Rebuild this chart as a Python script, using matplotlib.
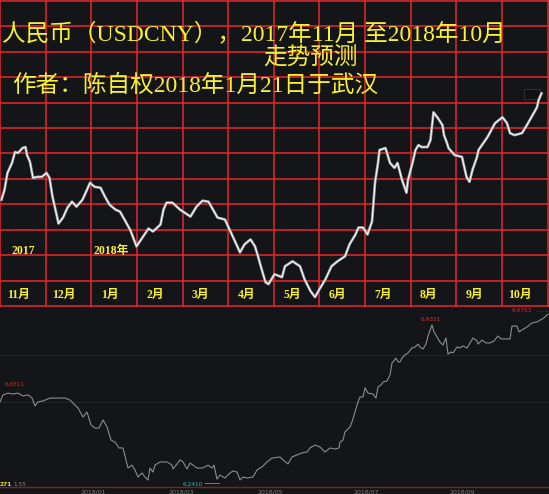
import numpy as np
import matplotlib
matplotlib.use("Agg")
import matplotlib.pyplot as plt
from matplotlib.patches import Rectangle

# ---- upper panel: forecast curve (days since 2017-11-01, level index) ----
fc_day = [1, 3, 5, 8, 10, 12, 15, 17, 18, 20, 22, 25, 28, 31, 33, 35, 38, 39, 42, 45,
          48, 51, 55, 58, 60, 63, 67, 70, 73, 77, 80, 83, 87, 91, 95, 99, 102, 107, 109, 111,
          115, 120, 123, 127, 131, 135, 139, 142, 145, 150, 153, 157, 160, 163, 167, 170, 172, 175, 177, 179,
          183, 188, 190, 195, 200, 203, 207, 210, 213, 217, 221, 225, 230, 233, 237, 239, 242, 245, 248, 249,
          250, 252, 253, 257, 260, 263, 265, 268, 271, 272, 275, 277, 279, 281, 285, 287, 289, 292, 295, 296,
          298, 299, 303, 308, 311, 313, 315, 318, 319, 325, 330, 335, 338, 340, 343, 348, 352, 355, 358, 359,
          361]
fc_level = [107, 117, 134, 144, 155, 154, 159, 160, 152, 145, 129, 130, 130, 134, 129, 110, 90, 83, 89, 99,
            105, 100, 107, 117, 124, 120, 119, 110, 102, 97, 95, 87, 76, 60, 69, 78, 75, 82, 97, 104,
            104, 97, 94, 90, 100, 106, 105, 97, 89, 87, 77, 64, 54, 62, 67, 60, 50, 34, 24, 22,
            32, 29, 40, 45, 40, 27, 15, 9, 17, 27, 40, 45, 50, 62, 72, 79, 79, 72, 85, 104,
            124, 144, 157, 159, 144, 139, 144, 127, 114, 127, 144, 157, 162, 160, 160, 167, 195, 189, 182, 172,
            164, 159, 152, 150, 130, 125, 137, 150, 157, 170, 184, 190, 184, 174, 172, 174, 184, 192, 200, 207,
            214]

month_names = ["11月", "12月", "1月", "2月", "3月", "4月", "5月", "6月", "7月", "8月", "9月", "10月"]
year_labels = ["2017", "2018年"]

title_1 = "人民币（USDCNY），2017年11月 至2018年10月"
title_2 = "走势预测"
title_3 = "作者：陈自权2018年1月21日于武汉"

# ---- lower panel: actual USDCNY (trading-day index, rate) ----
hist_x = [0, 3, 8, 13, 18, 23, 28, 32, 35, 38, 43, 50, 58, 65, 70, 73, 78, 83, 87, 91,
          95, 99, 103, 107, 111, 115, 119, 123, 128, 132, 135, 138, 142, 145, 148, 150, 153, 155, 160, 167,
          172, 173, 177, 180, 183, 187, 190, 193, 197, 202, 205, 208, 212, 214, 217, 220, 225, 230, 233, 237,
          240, 243, 247, 253, 257, 262, 267, 272, 280, 283, 288, 292, 297, 302, 307, 310, 315, 320, 325, 330,
          335, 339, 340, 343, 345, 350, 352, 355, 358, 360, 363, 365, 368, 373, 376, 378, 381, 383, 387, 390,
          392, 396, 398, 400, 402, 405, 408, 412, 415, 418, 420, 423, 426, 428, 432, 434, 437, 440, 443, 446,
          448, 451, 453, 457, 460, 463, 467, 470, 473, 477, 478, 482, 486, 490, 494, 498, 501, 510, 512, 517,
          519, 522, 527, 532, 537, 542, 545, 548]
hist_rate = [6.587, 6.618, 6.626, 6.622, 6.626, 6.613, 6.618, 6.604, 6.569, 6.587, 6.591, 6.604, 6.604, 6.604, 6.595, 6.582, 6.560, 6.520, 6.542, 6.485,
             6.471, 6.471, 6.507, 6.476, 6.418, 6.409, 6.383, 6.383, 6.294, 6.307, 6.285, 6.254, 6.272, 6.254, 6.241, 6.294, 6.276, 6.307, 6.321, 6.321,
             6.307, 6.290, 6.312, 6.330, 6.321, 6.290, 6.316, 6.307, 6.294, 6.294, 6.299, 6.307, 6.294, 6.307, 6.245, 6.263, 6.250, 6.272, 6.281, 6.276,
             6.241, 6.254, 6.250, 6.254, 6.285, 6.299, 6.321, 6.338, 6.343, 6.330, 6.312, 6.343, 6.352, 6.361, 6.365, 6.383, 6.396, 6.387, 6.365, 6.383,
             6.378, 6.383, 6.409, 6.418, 6.454, 6.476, 6.498, 6.542, 6.587, 6.609, 6.609, 6.649, 6.626, 6.622, 6.604, 6.653, 6.662, 6.675, 6.680, 6.706,
             6.759, 6.781, 6.764, 6.764, 6.781, 6.795, 6.804, 6.826, 6.830, 6.843, 6.830, 6.821, 6.843, 6.879, 6.928, 6.897, 6.875, 6.852, 6.839, 6.870,
             6.799, 6.808, 6.804, 6.830, 6.826, 6.835, 6.826, 6.848, 6.870, 6.857, 6.843, 6.861, 6.848, 6.848, 6.857, 6.879, 6.866, 6.866, 6.923, 6.923,
             6.897, 6.906, 6.919, 6.937, 6.941, 6.954, 6.963, 6.976]

date_ticks = [93, 181, 270, 366, 462]
date_labels = ["2018/01", "2018/03", "2018/05", "2018/07", "2018/09"]

cjk = ["Liberation Serif", "Noto Sans CJK SC"]
yellow = "#f8f034"
red = "#e8272a"

fig = plt.figure(figsize=(5.49, 4.94), dpi=100)
fig.patch.set_facecolor("#141518")

# upper chart
ax = fig.add_axes([0, 187 / 494, 1, 307 / 494])
ax.set_facecolor("#1b1c20")
ax.set_xlim(0, 366)
ax.set_ylim(-1, 308)
ax.axis("off")

for k in range(13):
    ax.axvline(k * 365 / 12, color=red, lw=1.1, zorder=1)
    ax.axhline(k * 307 / 12, color=red, lw=1.1, zorder=1)

ax.add_patch(Rectangle((349, 208), 11, 10, facecolor="#101114", edgecolor="#34353a", lw=0.6, zorder=2))

ax.plot(fc_day, fc_level, color="#a4a9ae", lw=1.9, zorder=3, solid_joinstyle="round")
ax.plot(fc_day, fc_level, color="white", lw=0.7, zorder=4)

ax.text(1, 274, title_1, family=cjk, fontsize=17, color=yellow, va="center", ha="left", zorder=5)
ax.text(207, 249, title_2, family=cjk, fontsize=17, color=yellow, va="center", ha="center", zorder=5)
ax.text(8, 222, title_3, family=cjk, fontsize=17, color=yellow, va="center", ha="left", zorder=5)

for k, name in enumerate(month_names):
    ax.text((k + 0.5) * 365 / 12 - 3, 11, name, family=cjk, fontsize=8.5, fontweight="bold",
            color=yellow, va="center", ha="center", zorder=5)
ax.text(8, 55, year_labels[0], family=cjk, fontsize=8.5, fontweight="bold", color=yellow, va="center", ha="left")
ax.text(62, 55, year_labels[1], family=cjk, fontsize=8.5, fontweight="bold", color=yellow, va="center", ha="left")

# lower chart
bx = fig.add_axes([0, 0, 1, 187 / 494])
bx.set_facecolor("#141518")
bx.set_xlim(0, 549)
bx.set_ylim(6.179, 7.0074)
bx.axis("off")

for lvl in [6.587, 6.795]:
    bx.axhline(lvl, color="#24252a", lw=0.7)
bx.axhline(6.210, color="#7a2426", lw=1.0)

bx.plot(hist_x, hist_rate, color="#8c8c8c", lw=0.8)

for x, lab in zip(date_ticks, date_labels):
    bx.text(x, 6.190, lab, fontsize=4.5, color="#7c7c7c", ha="center", va="center")

bx.text(5, 6.662, "6.6511", fontsize=4.2, color="#c83030", ha="left", va="center")
bx.text(421, 6.950, "6.9351", fontsize=4.2, color="#c83030", ha="left", va="center")
bx.text(512, 6.990, "6.9763", fontsize=4.2, color="#c83030", ha="left", va="center")
bx.plot([537, 549], [6.990, 6.990], color="#555555", lw=0.5, ls=":")
bx.text(183, 6.219, "6.2410", fontsize=4.2, color="#2ab8b8", ha="left", va="center")
bx.plot([205, 219], [6.226, 6.226], color="#2ab8b8", lw=0.6)
bx.text(0, 6.223, "271", fontsize=4.2, fontweight="bold", color="#e8e030", ha="left", va="center")
bx.text(13, 6.223, "1.55", fontsize=4.2, color="#8a8a60", ha="left", va="center")

fig.savefig("out.png", dpi=100, facecolor=fig.get_facecolor())
